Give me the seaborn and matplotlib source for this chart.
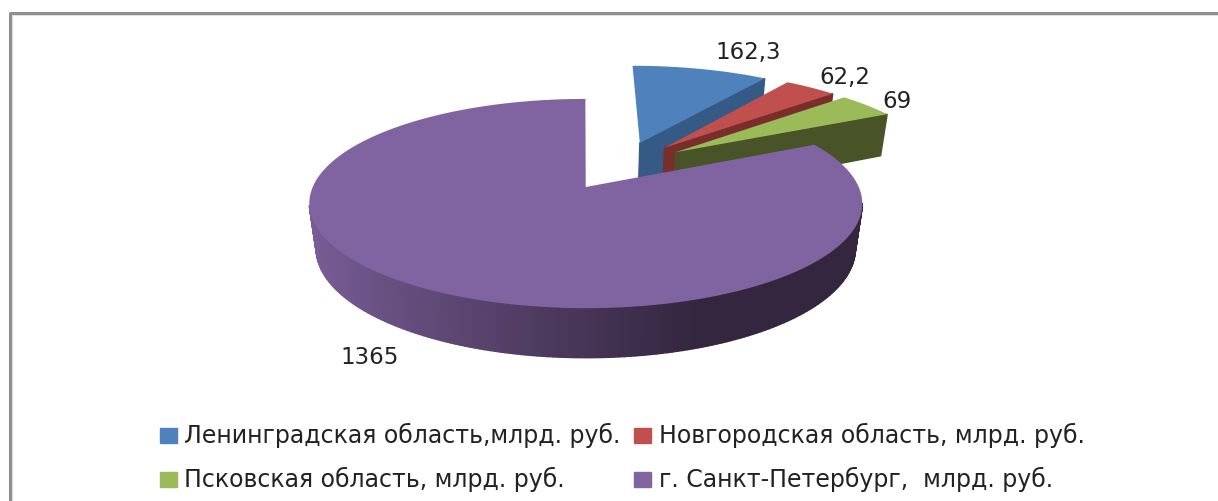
import numpy as np
import matplotlib
matplotlib.use("Agg")
import matplotlib.pyplot as plt
from matplotlib.colors import to_rgb
from matplotlib.patches import Patch
import seaborn as sns

regions = ["Ленинградская область,млрд. руб.", "Новгородская область, млрд. руб.",
           "Псковская область, млрд. руб.", "г. Санкт-Петербург,  млрд. руб."]
values = [162.3, 62.2, 69, 1365]
top_colors = ["#4f81bd", "#c0504d", "#9bbb59", "#8064a2"]
side_colors = ["#345a85", "#7a2e2c", "#485427", "#33263e"]
rim_light = "#7b5f99"
label_xy = [(748, 52), (845, 77), (897, 101), (370, 357)]

# projection of the pie plane to pixels
cx, cy = 583, 187
rx, ry = 273, 102
depth = 46
k, m = 0.158, 0.025
explode = 0.257


def project(u, v, z=0.0):
    w = 1 + k * v + m * z
    return cx + rx * u / w, cy + (depth * z - ry * v) / w


def quad(ax, x0, y0, x1, y1, color):
    xa, ya = project(x0, y0)
    xb, yb = project(x1, y1)
    xc, yc = project(x1, y1, 1)
    xd, yd = project(x0, y0, 1)
    ax.fill([xa, xb, xc, xd], [ya, yb, yc, yd], color=color, lw=1, zorder=2)


sns.set_theme(style="white")
plt.rcParams['font.family'] = ['DejaVu Sans']
fig = plt.figure(figsize=(12.18, 5.01), dpi=100)
ax = fig.add_axes([0, 0, 1, 1])

wedges, _ = ax.pie(values, explode=[explode] * len(values), startangle=90,
                   counterclock=False, colors=sns.color_palette(top_colors))
shift = np.array([0.01, 0]) - np.array(wedges[-1].center)

for i, wedge in enumerate(wedges):
    wedge.set_visible(False)
    x0, y0 = np.array(wedge.center) + shift
    phi = np.radians(np.arange(wedge.theta1, wedge.theta2, 1.0).tolist() + [wedge.theta2])
    u = x0 + np.cos(phi)
    v = y0 + np.sin(phi)

    # cut wall of the small slices, rim of the big one, then the top face
    if i < 3:
        quad(ax, x0, y0, u[0], v[0], side_colors[i])
    else:
        for j in range(len(phi) - 1):
            if v[j] < -k:
                t = np.clip((np.cos(phi[j]) + 1) / 1.35, 0, 1)
                color = (1 - t) * np.array(to_rgb(rim_light)) + t * np.array(to_rgb(side_colors[3]))
                quad(ax, u[j], v[j], u[j + 1], v[j + 1], tuple(color))
    px, py = project(np.r_[x0, u], np.r_[y0, v])
    ax.fill(px, py, color=top_colors[i], lw=0, zorder=3)

for v, (lx, ly) in zip(values, label_xy):
    ax.text(lx, ly, f"{v:g}".replace(".", ","), ha="center", va="center",
            fontsize=16.5, color="#222222", zorder=5)

handles = [Patch(color=c, label=r) for c, r in zip(top_colors, regions)]
ax.legend(handles=[handles[0], handles[2], handles[1], handles[3]], ncols=2, frameon=False,
          loc="center left", bbox_to_anchor=(0.131, 0.086), fontsize=17,
          labelcolor="#222222", handlelength=0.75, handleheight=0.6, handletextpad=0.3,
          labelspacing=0.8, columnspacing=0.55, borderpad=0, borderaxespad=0)

# chart frame, only top and left show in the crop
ax.plot([11.6, 11.6, 1218], [501, 15, 15], color="#e2e2e2", lw=0.8, zorder=6)
ax.plot([9.5, 9.5, 1218], [501, 13, 13], color="#8f8f8f", lw=2.2, zorder=6)

ax.set_aspect("auto")
ax.set_xlim(0, 1218)
ax.set_ylim(501, 0)
ax.axis("off")

fig.savefig("out.png", dpi=100)
